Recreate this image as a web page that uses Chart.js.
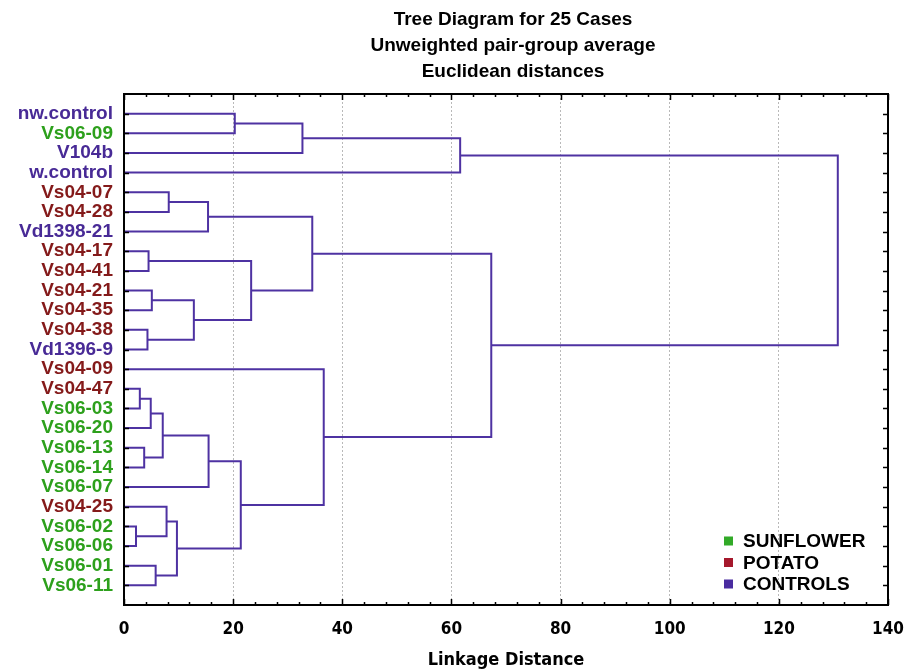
<!DOCTYPE html>
<html>
<head>
<meta charset="utf-8">
<title>Tree Diagram for 25 Cases</title>
<script src="https://cdn.jsdelivr.net/npm/chart.js@4.4.1/dist/chart.umd.min.js"></script>
<style>
    html, body { margin: 0; padding: 0; background: #fff; }
    #wrap { width: 906px; height: 671px; }
</style>
</head>
<body>
<div id="wrap"><canvas id="treeChart" width="906" height="671"></canvas></div>
<script>
// Leaves, top to bottom
const leafNames = [
    'nw.control', 'Vs06-09', 'V104b', 'w.control', 'Vs04-07', 'Vs04-28', 'Vd1398-21',
    'Vs04-17', 'Vs04-41', 'Vs04-21', 'Vs04-35', 'Vs04-38', 'Vd1396-9', 'Vs04-09',
    'Vs04-47', 'Vs06-03', 'Vs06-20', 'Vs06-13', 'Vs06-14', 'Vs06-07', 'Vs04-25',
    'Vs06-02', 'Vs06-06', 'Vs06-01', 'Vs06-11'
];
const leafGroups = [
    'C', 'S', 'C', 'C', 'P', 'P', 'C',
    'P', 'P', 'P', 'P', 'P', 'C', 'P',
    'P', 'S', 'S', 'S', 'S', 'S', 'P',
    'S', 'S', 'S', 'S'
];

// Joins: [child A, child B, linkage distance]
// children 0-24 are leaves, 25 and up are earlier joins in this list
const joinA = [21, 14, 17, 11, 7, 26, 9, 23, 30, 20, 4, 34, 31, 35, 33, 0, 39, 29, 40, 38, 13, 43, 44, 46];
const joinB = [22, 15, 18, 12, 8, 16, 10, 24, 27, 25, 5, 32, 28, 6, 19, 1, 36, 37, 2, 42, 41, 3, 45, 47];
const joinDist = [2.2, 2.9, 3.7, 4.3, 4.5, 4.9, 5.1, 5.8, 7.1, 7.8, 8.2, 9.7, 12.8, 15.4, 15.5,
    20.3, 21.4, 23.3, 32.7, 34.5, 36.6, 61.6, 67.3, 130.8];

const xTicks = [0, 20, 40, 60, 80, 100, 120, 140];
const xMinorStep = 4;

const titleLines = ['Tree Diagram for 25 Cases', 'Unweighted pair-group average', 'Euclidean distances'];
const xTitle = 'Linkage Distance';

const groupKeys = ['S', 'P', 'C'];
const groupLabels = ['SUNFLOWER', 'POTATO', 'CONTROLS'];
const groupTextColors = ['rgb(45,160,28)', 'rgb(132,26,26)', 'rgb(72,42,150)'];
const groupBoxColors = ['rgb(50,170,40)', 'rgb(165,24,44)', 'rgb(74,44,160)'];

const lineColor = 'rgb(78,50,162)';
const boldFont = "'Liberation Sans', Arial, Helvetica, sans-serif";
const narrowFont = "'Liberation Sans Narrow', 'Arial Narrow', 'DejaVu Sans Condensed', sans-serif";

// Node positions: leaves sit at 1..25, joins halfway between children
const nodeY = leafNames.map((n, i) => i + 1);
const nodeX = leafNames.map(() => 0);
const datasets = [];
joinA.forEach((a, k) => {
    const b = joinB[k];
    const d = joinDist[k];
    datasets.push({
        data: [
            { x: nodeX[a], y: nodeY[a] },
            { x: d, y: nodeY[a] },
            { x: d, y: nodeY[b] },
            { x: nodeX[b], y: nodeY[b] }
        ],
        showLine: true,
        borderColor: lineColor,
        borderWidth: 2,
        pointRadius: 0,
        fill: false,
        tension: 0
    });
    nodeY.push((nodeY[a] + nodeY[b]) / 2);
    nodeX.push(d);
});

function colorOfLeaf(value) {
    const g = leafGroups[value - 1];
    return groupTextColors[groupKeys.indexOf(g)] || '#000';
}

// Title, frame, inner ticks and legend
const decorPlugin = {
    id: 'decor',
    afterDraw(chart) {
        const ctx = chart.ctx;
        const ca = chart.chartArea;
        const xs = chart.scales.x;
        const ys = chart.scales.y;
        ctx.save();

        // title
        ctx.fillStyle = '#000';
        ctx.font = 'bold 19px ' + boldFont;
        ctx.textAlign = 'center';
        ctx.textBaseline = 'middle';
        titleLines.forEach((t, i) => ctx.fillText(t, ca.left + ca.width / 2 + 7, 20 + i * 26));

        // frame
        ctx.strokeStyle = '#000';
        ctx.lineWidth = 2;
        ctx.strokeRect(ca.left, ca.top, ca.width, ca.height);

        // inner ticks
        ctx.lineWidth = 1.5;
        ctx.beginPath();
        leafNames.forEach((n, i) => {
            const py = Math.round(ys.getPixelForValue(i + 1)) + 0.5;
            ctx.moveTo(ca.left, py); ctx.lineTo(ca.left + 5, py);
            ctx.moveTo(ca.right - 5, py); ctx.lineTo(ca.right, py);
        });
        const xMax = xTicks[xTicks.length - 1];
        for (let v = xTicks[0]; v <= xMax; v += xMinorStep) {
            const px = Math.round(xs.getPixelForValue(v)) + 0.5;
            ctx.moveTo(px, ca.bottom); ctx.lineTo(px, ca.bottom - 3);
            ctx.moveTo(px, ca.top); ctx.lineTo(px, ca.top + 3);
        }
        xTicks.forEach(v => {
            const px = Math.round(xs.getPixelForValue(v)) + 0.5;
            ctx.moveTo(px, ca.bottom); ctx.lineTo(px, ca.bottom - 6);
            ctx.moveTo(px, ca.top); ctx.lineTo(px, ca.top + 6);
        });
        ctx.stroke();

        // legend
        ctx.font = 'bold 19px ' + boldFont;
        ctx.textAlign = 'left';
        groupLabels.forEach((label, i) => {
            const cy = ca.bottom - 64 + i * 21.5;
            ctx.fillStyle = groupBoxColors[i];
            ctx.fillRect(ca.right - 164, cy - 4.5, 9, 9);
            ctx.fillStyle = '#000';
            ctx.fillText(label, ca.right - 145, cy + 1);
        });
        ctx.restore();
    }
};

document.addEventListener('DOMContentLoaded', function() {
    try {
        if (typeof Chart === 'undefined') {
            console.error('Chart.js not loaded');
            return;
        }
        new Chart(document.getElementById('treeChart'), {
            type: 'scatter',
            data: { datasets: datasets },
            plugins: [decorPlugin],
            options: {
                responsive: false,
                animation: false,
                layout: { padding: { top: 94, right: 18, left: 0, bottom: 0 } },
                plugins: {
                    legend: { display: false },
                    tooltip: { enabled: false },
                    title: { display: false }
                },
                scales: {
                    x: {
                        type: 'linear',
                        min: xTicks[0],
                        max: xTicks[xTicks.length - 1],
                        afterBuildTicks: (scale) => {
                            scale.ticks = xTicks.map(v => ({ value: v }));
                        },
                        afterFit: (scale) => {
                            scale.height = 66;
                            scale.paddingLeft = 0;
                            scale.paddingRight = 0;
                        },
                        grid: {
                            drawTicks: false,
                            lineWidth: 1,
                            color: (ctx) => (ctx.tick && ctx.tick.value > xTicks[0] && ctx.tick.value < xTicks[xTicks.length - 1])
                                ? 'rgb(185,185,185)' : 'rgba(0,0,0,0)'
                        },
                        border: { display: false, dash: [2, 2] },
                        ticks: {
                            autoSkip: false,
                            maxRotation: 0,
                            padding: 14,
                            color: '#000',
                            font: { family: narrowFont, size: 17, weight: 'bold' }
                        },
                        title: {
                            display: true,
                            text: xTitle,
                            color: '#000',
                            padding: { top: 0, bottom: 0 },
                            font: { family: narrowFont, size: 18, weight: 'bold' }
                        }
                    },
                    y: {
                        type: 'linear',
                        reverse: true,
                        min: 0,
                        max: leafNames.length + 1,
                        afterBuildTicks: (scale) => {
                            scale.ticks = leafNames.map((n, i) => ({ value: i + 1 }));
                        },
                        afterFit: (scale) => {
                            scale.width = 124;
                            scale.paddingTop = 0;
                            scale.paddingBottom = 0;
                        },
                        grid: { display: false, drawTicks: false },
                        border: { display: false },
                        ticks: {
                            autoSkip: false,
                            padding: 11,
                            callback: (value) => leafNames[value - 1] || '',
                            color: (ctx) => colorOfLeaf(ctx.tick.value),
                            font: { family: boldFont, size: 19, weight: 'bold' }
                        }
                    }
                }
            }
        });
    } catch (error) {
        console.error('Error drawing chart:', error);
    }
});
</script>
</body>
</html>
